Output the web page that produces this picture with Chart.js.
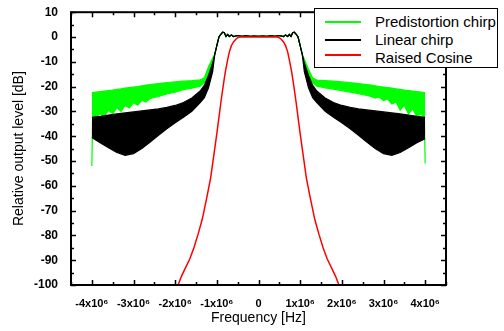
<!DOCTYPE html>
<html>
<head>
<meta charset="utf-8">
<script src="https://cdn.jsdelivr.net/npm/chart.js@4.4.1/dist/chart.umd.min.js"></script>
<style>
  body { margin: 0; background: #fff; }
  #wrap { position: relative; width: 504px; height: 331px; }
  #legend {
    position: absolute; left: 314px; top: 8px; width: 182px; height: 58px;
    border: 1px solid #000; background: #fff;
    font: 15px 'Liberation Sans', Arial, sans-serif; color: #000;
  }
  #legend .row { position: absolute; left: 60px; line-height: 18px; white-space: nowrap; }
  #legend .swatch { position: absolute; left: 10px; width: 36px; height: 2px; }
</style>
</head>
<body>
<div id="wrap">
  <canvas id="spectrum"></canvas>
  <div id="legend"></div>
</div>
<script>
// frequencies in MHz (x 1e6 Hz), levels in dB
const seriesNames = ['Predistortion chirp', 'Linear chirp', 'Raised Cosine'];

const greenFreq = [-4.0, -3.98, -3.9, -3.8, -3.7, -3.6, -3.5, -3.4, -3.3, -3.2, -3.1, -3.0, -2.9, -2.8, -2.7, -2.6, -2.4, -2.2, -2.0, -1.8, -1.6, -1.4, -1.3, -1.2, -1.1, -1.05, -1.0,
  -0.95, -0.9, -0.86, -0.82, -0.78, -0.74, -0.7, -0.65, -0.6, -0.5, -0.4, -0.3, -0.2, -0.1, 0, 0.1, 0.2, 0.3, 0.4, 0.5, 0.6, 0.65, 0.7, 0.74, 0.78, 0.82, 0.86, 0.9, 0.95,
  1.0, 1.05, 1.1, 1.2, 1.3, 1.4, 1.6, 1.8, 2.0, 2.2, 2.4, 2.6, 2.7, 2.8, 2.9, 3.0, 3.1, 3.2, 3.3, 3.4, 3.5, 3.6, 3.7, 3.8, 3.9, 3.98, 4.0];
const greenUpper = [-22.4, -22.4, -22.2, -22.0, -21.8, -21.6, -21.4, -21.1, -20.9, -20.6, -20.4, -20.2, -20.0, -19.7, -19.4, -19.2, -18.8, -18.4, -18.1, -17.8, -17.6, -17.3, -16.5, -12.0, -8.5, -7.0, -3.5,
  0, 1.2, 1.9, 1.7, 0.2, 1.0, 0.2, 0.8, 0.2, 0.6, 0.3, 0.5, 0.3, 0.4, 0.3, 0.4, 0.3, 0.5, 0.3, 0.6, 0.2, 0.8, 0.2, 1.0, 0.2, 1.7, 1.9, 1.2, 0,
  -3.5, -7.0, -9.0, -13.0, -16.5, -17.4, -17.6, -17.8, -18.1, -18.4, -18.8, -19.2, -19.4, -19.7, -20.0, -20.2, -20.4, -20.6, -20.9, -21.1, -21.4, -21.6, -21.8, -22.0, -22.2, -22.4, -22.4];
const greenLower = [-52.0, -32.4, -32.4, -31.0, -32.0, -29.5, -31.0, -28.5, -30.0, -27.6, -28.6, -26.5, -27.5, -25.5, -26.2, -24.8, -24.0, -23.0, -22.2, -21.2, -20.6, -19.8, -18.5, -15.5, -10.5, -7.0, -3.5,
  0, 1.2, 1.9, 1.7, 0.2, 1.0, 0.2, 0.8, 0.2, 0.6, 0.3, 0.5, 0.3, 0.4, 0.3, 0.4, 0.3, 0.5, 0.3, 0.6, 0.2, 0.8, 0.2, 1.0, 0.2, 1.7, 1.9, 1.2, 0,
  -3.5, -7.0, -10.5, -15.5, -18.5, -19.8, -20.5, -21.0, -21.6, -22.2, -22.8, -23.6, -24.0, -24.6, -24.2, -25.6, -25.0, -27.0, -26.2, -29.5, -27.5, -31.0, -29.0, -32.0, -31.0, -32.4, -51.0];

const blackFreq = [-4.0, -3.8, -3.6, -3.4, -3.2, -3.0, -2.8, -2.6, -2.4, -2.2, -2.0, -1.8, -1.6, -1.4, -1.3, -1.2, -1.1, -1.05, -1.0,
  -0.95, -0.9, -0.86, -0.82, -0.78, -0.74, -0.7, -0.65, -0.6, -0.5, -0.4, -0.3, -0.2, -0.1, 0, 0.1, 0.2, 0.3, 0.4, 0.5, 0.6, 0.65, 0.7, 0.74, 0.78, 0.82, 0.86, 0.9, 0.95,
  1.0, 1.05, 1.1, 1.2, 1.3, 1.4, 1.6, 1.8, 2.0, 2.2, 2.4, 2.6, 2.8, 3.0, 3.2, 3.4, 3.6, 3.8, 4.0];
const blackUpper = [-32.4, -32.0, -31.5, -31.0, -30.6, -30.2, -29.8, -29.4, -29.0, -28.4, -27.6, -26.4, -24.6, -21.8, -19.5, -15.5, -10.5, -7.0, -3.5,
  0, 1.2, 1.9, 1.7, 0.2, 1.0, 0.2, 0.8, 0.2, 0.6, 0.3, 0.5, 0.3, 0.4, 0.3, 0.4, 0.3, 0.5, 0.3, 0.6, 0.2, 0.8, 0.2, 1.0, 0.2, 1.7, 1.9, 1.2, 0,
  -3.5, -7.0, -10.5, -15.5, -19.5, -21.8, -24.6, -26.4, -27.6, -28.4, -29.0, -29.4, -29.8, -30.2, -30.6, -31.0, -31.5, -32.0, -32.4];
const blackLower = [-40.5, -42.6, -44.7, -46.6, -47.7, -47.0, -45.0, -42.4, -39.6, -37.0, -34.6, -32.4, -30.0, -26.5, -24.5, -20.5, -14.0, -7.0, -3.5,
  0, 1.2, 1.9, 1.7, 0.2, 1.0, 0.2, 0.8, 0.2, 0.6, 0.3, 0.5, 0.3, 0.4, 0.3, 0.4, 0.3, 0.5, 0.3, 0.6, 0.2, 0.8, 0.2, 1.0, 0.2, 1.7, 1.9, 1.2, 0,
  -3.5, -7.0, -14.0, -20.5, -24.5, -26.5, -30.0, -32.4, -34.6, -37.0, -39.6, -42.4, -45.0, -47.0, -47.7, -46.6, -44.7, -42.6, -41.0];

const redFreq = [-1.93, -1.85, -1.75, -1.65, -1.55, -1.45, -1.35, -1.25, -1.15, -1.05, -1.0, -0.95, -0.9, -0.85, -0.8, -0.75, -0.7, -0.65, -0.6, -0.55, -0.5, -0.45,
  0, 0.45, 0.5, 0.55, 0.6, 0.65, 0.7, 0.75, 0.8, 0.85, 0.9, 0.95, 1.0, 1.05, 1.15, 1.25, 1.35, 1.45, 1.55, 1.65, 1.75, 1.85, 1.93];
const redLevel = [-100, -96.5, -93, -89.5, -85, -79.5, -73.5, -65.5, -57, -45, -39, -32.5, -26, -20, -14.5, -10, -6, -3.5, -2, -1, -0.3, 0,
  0, 0, -0.3, -1, -2, -3.5, -6, -10, -14.5, -20, -26, -32.5, -39, -45, -57, -65.5, -73.5, -79.5, -85, -89.5, -93, -96.5, -100];

const xTickValues = [-4, -3, -2, -1, 0, 1, 2, 3, 4];
const xTickLabels = ['-4x10\u2076', '-3x10\u2076', '-2x10\u2076', '-1x10\u2076', '0', '1x10\u2076', '2x10\u2076', '3x10\u2076', '4x10\u2076'];
const yTicks = [-100, -90, -80, -70, -60, -50, -40, -30, -20, -10, 0, 10];

const toPoints = (freqs, levels) => freqs.map((f, i) => ({ x: f * 1e6, y: levels[i] }));

const GREEN = '#00ff00', BLACK = '#000000', RED = '#ff0000';
const FONT = "'Liberation Sans', Arial, sans-serif";

// inward ticks on all four sides plus the frame
const frameTicks = {
  id: 'frameTicks',
  afterDatasetsDraw(chart) {
    const { ctx, chartArea: a, scales: { x, y } } = chart;
    ctx.save();
    ctx.strokeStyle = '#000';
    ctx.lineWidth = 1.5;
    ctx.beginPath();
    for (let v = -4.5; v <= 4.5; v += 0.5) {
      const px = Math.round(x.getPixelForValue(v * 1e6)) + 0.5;
      const len = Number.isInteger(v) ? 5 : 3;
      ctx.moveTo(px, a.bottom); ctx.lineTo(px, a.bottom - len);
      ctx.moveTo(px, a.top); ctx.lineTo(px, a.top + len);
    }
    for (let v = -100; v <= 10; v += 5) {
      const py = Math.round(y.getPixelForValue(v)) + 0.5;
      const len = v % 10 === 0 ? 5 : 3;
      ctx.moveTo(a.left, py); ctx.lineTo(a.left + len, py);
      ctx.moveTo(a.right, py); ctx.lineTo(a.right - len, py);
    }
    ctx.stroke();
    ctx.lineWidth = 2;
    ctx.strokeRect(a.left, a.top, a.right - a.left, a.bottom - a.top);
    ctx.restore();
  }
};

const canvas = document.getElementById('spectrum');
const chart = new Chart(canvas, {
  type: 'line',
  data: {
    datasets: [
      { label: seriesNames[2], data: toPoints(redFreq, redLevel), borderColor: RED, borderWidth: 1.5, fill: false },
      { label: seriesNames[1] + ' low', data: toPoints(blackFreq, blackLower), borderColor: BLACK, borderWidth: 1.2, fill: false },
      { label: seriesNames[1], data: toPoints(blackFreq, blackUpper), borderColor: BLACK, backgroundColor: BLACK, borderWidth: 1.2, fill: '-1' },
      { label: seriesNames[0] + ' low', data: toPoints(greenFreq, greenLower), borderColor: GREEN, borderWidth: 1.2, fill: false },
      { label: seriesNames[0], data: toPoints(greenFreq, greenUpper), borderColor: GREEN, backgroundColor: GREEN, borderWidth: 1.2, fill: '-1' }
    ]
  },
  options: {
    responsive: true,
    maintainAspectRatio: false,
    animation: false,
    layout: { padding: { left: 0, top: 11, right: 58, bottom: 0 } },
    elements: { point: { radius: 0 }, line: { tension: 0 } },
    plugins: { legend: { display: false }, tooltip: { enabled: false } },
    scales: {
      x: {
        type: 'linear',
        min: -4.5e6,
        max: 4.5e6,
        grid: { display: false },
        border: { display: false },
        afterBuildTicks: s => { s.ticks = xTickValues.map(v => ({ value: v * 1e6 })); },
        afterFit: s => { s.height = 46; },
        ticks: {
          autoSkip: false, maxRotation: 0, padding: 4, color: '#000',
          font: { family: FONT, size: 11, weight: 'bold' },
          callback: (v, i) => xTickLabels[i]
        },
        title: { display: true, text: 'Frequency [Hz]', color: '#000', font: { family: FONT, size: 14 }, padding: { top: 0, bottom: 4 } }
      },
      y: {
        min: -100,
        max: 10,
        grid: { display: false },
        border: { display: false },
        afterBuildTicks: s => { s.ticks = yTicks.map(v => ({ value: v })); },
        afterFit: s => { s.width = 71; },
        ticks: {
          padding: 5, color: '#000',
          font: { family: FONT, size: 12, weight: 'bold' },
          callback: v => String(v)
        },
        title: { display: true, text: 'Relative output level [dB]', color: '#000', font: { family: FONT, size: 14 }, padding: { top: 11, bottom: 0 } }
      }
    }
  },
  plugins: [frameTicks]
});

// legend box drawn over the top right corner of the frame
const legendColors = [GREEN, BLACK, RED];
const swatchTops = [12, 30, 45];
const legend = document.getElementById('legend');
seriesNames.forEach((name, i) => {
  const sw = document.createElement('div');
  sw.className = 'swatch';
  sw.style.top = swatchTops[i] + 'px';
  sw.style.background = legendColors[i];
  legend.appendChild(sw);
  const row = document.createElement('div');
  row.className = 'row';
  row.style.top = (4 + i * 18) + 'px';
  row.textContent = name;
  legend.appendChild(row);
});
</script>
</body>
</html>
